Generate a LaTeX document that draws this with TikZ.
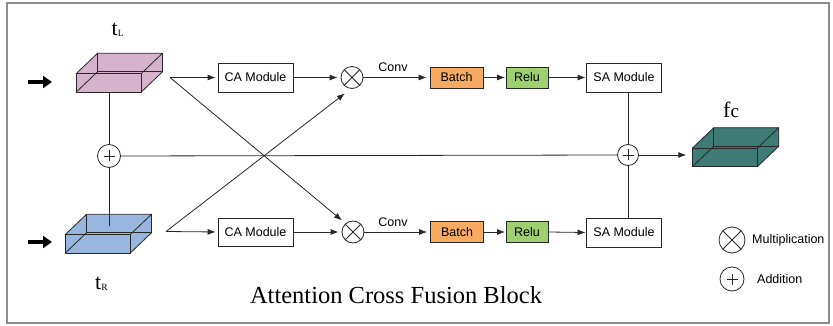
\documentclass[tikz,border=0pt]{standalone}
\usepackage{fontspec}
\setmainfont{Liberation Serif}
\setsansfont{Liberation Sans}
\usetikzlibrary{arrows.meta}
\definecolor{pinkc}{RGB}{214,178,204}
\definecolor{bluec}{RGB}{153,182,224}
\definecolor{tealc}{RGB}{62,122,118}
\definecolor{orangec}{RGB}{247,170,98}
\definecolor{greenc}{RGB}{158,208,112}
\definecolor{edgec}{RGB}{40,40,40}
\definecolor{framec}{RGB}{140,140,140}
\tikzset{
  boxedge/.style={draw=edgec,line width=0.8pt,line join=round},
  cuboid/.pic={
    \fill[#1] (0,0) -- (0,-18.5) -- (21.5,-39) -- (86.5,-39) -- (86.5,-20.5) -- (65,0) -- cycle;
    \draw[boxedge] (0,0) rectangle (65,-18.5);
    \draw[boxedge] (0,-18.5) -- (21.5,-39) -- (86.5,-39) -- (65,-18.5);
    \draw[boxedge] (86.5,-39) -- (86.5,-20.5) -- (65,0);
    \draw[boxedge] (21.5,-39) -- (21.5,-20.5) -- (86.5,-20.5);
    \draw[boxedge] (0,0) -- (21.5,-20.5);
  },
  sans/.style={font=\sffamily\fontsize{12.5}{14}\selectfont},
  module/.style={sans,draw=edgec,line width=0.8pt,fill=white,inner sep=0pt,minimum width=75pt,minimum height=29pt},
  smallbox/.style={sans,draw=edgec,line width=0.8pt,inner sep=0pt,minimum height=21pt},
  mult/.style={circle,draw=edgec,line width=0.8pt,minimum size=22pt,inner sep=0pt,
    path picture={\draw[edgec,line width=0.8pt] (path picture bounding box.north west) -- (path picture bounding box.south east) (path picture bounding box.north east) -- (path picture bounding box.south west);}},
  addc/.style={circle,draw=edgec,line width=0.8pt,minimum size=22pt,inner sep=0pt,fill=white,
    path picture={\draw[edgec,line width=0.8pt] ([xshift=-5.5pt]path picture bounding box.center) -- ([xshift=5.5pt]path picture bounding box.center) ([yshift=-5.5pt]path picture bounding box.center) -- ([yshift=5.5pt]path picture bounding box.center);}},
  conn/.style={draw=edgec,line width=0.8pt},
  arr/.style={conn,-{Latex[length=8pt,width=6pt]},shorten >=2pt},
  bigarr/.style={draw=black,line width=4.5pt,-{Triangle[length=9pt,width=12pt]}},
  serif/.style={font=\rmfamily\fontsize{22}{24}\selectfont,inner sep=0pt},
}
\begin{document}
\begin{tikzpicture}[x=1pt,y=-1pt]
\useasboundingbox (0,0) rectangle (833,326);
\draw[framec,line width=1.6pt] (7,3) rectangle (829,323);

% cuboids
\pic at (76,92.3) {cuboid=pinkc};
\pic at (65,253.3) {cuboid=bluec};
\pic at (692.3,166.7) {cuboid=tealc};

% labels
\node[serif,anchor=base west] (tL) at (111.5,36) {t\raisebox{-1pt}{\fontsize{9.5}{9.5}\selectfont L}};
\node[serif,anchor=base west] (tR) at (95,289) {t\raisebox{-1pt}{\fontsize{9.5}{9.5}\selectfont R}};
\node[serif,anchor=base west] (fc) at (723,118) {f{\fontsize{19}{20}\selectfont c}};

% input arrows
\coordinate (inT0) at (28,82);
\coordinate (inT1) at (52,82);
\coordinate (inB0) at (28,242);
\coordinate (inB1) at (52,242);
\draw[bigarr] (inT0) -- (inT1);
\draw[bigarr] (inB0) -- (inB1);

% key points
\coordinate (tLbot) at (109,92.3);
\coordinate (tRtop) at (109,226);
\coordinate (startT) at (170,77.5);
\coordinate (startB) at (166,231.5);
\coordinate (fcIn) at (692.3,155);

% nodes
\node[addc,minimum size=23pt] (plusL) at (109,156) {};
\node[module] (caU) at (255.5,77.5) {CA Module};
\node[module,minimum height=28pt] (caD) at (255.5,232) {CA Module};
\node[mult] (mulU) at (352,77.5) {};
\node[mult] (mulD) at (353,232) {};
\node[smallbox,fill=orangec,minimum width=53pt] (bU) at (456.5,77.5) {Batch};
\node[smallbox,fill=orangec,minimum width=53pt] (bD) at (457,232) {Batch};
\node[smallbox,fill=greenc,minimum width=42pt] (rU) at (527,77.5) {Relu};
\node[smallbox,fill=greenc,minimum width=42pt] (rD) at (527,232) {Relu};
\node[module] (saU) at (624,77.5) {SA Module};
\node[module] (saD) at (624,232.5) {SA Module};
\node[addc,minimum size=21pt] (plusR) at (628,155) {};
\node[sans] (convU) at (393,67) {Conv};
\node[sans] (convD) at (393,222) {Conv};

% connectors
\draw[conn] (tLbot) -- (plusL.north);
\draw[conn] (plusL.south) -- (tRtop);
\draw[conn] (plusL.east) -- (plusR.west);
\draw[conn] (plusR.north) -- (plusR.north |- saU.south);
\draw[conn] (plusR.south) -- (plusR.south |- saD.north);
\draw[arr,shorten >=6pt] (plusR.east) -- (fcIn);

\draw[arr] (startT) -- (caU.west);
\draw[arr,shorten >=4.6pt] (startT) -- (mulD.131);
\draw[arr] (startB) -- (caD.west);
\draw[arr,shorten >=7.5pt] (startB) -- (mulU.264);

\draw[arr,shorten >=3pt] (caU.east) -- (mulU.west);
\draw[arr,shorten >=3pt] (caD.east) -- (mulD.west);
\draw[arr,shorten >=3pt] (mulU.east) -- (bU.west);
\draw[arr,shorten >=3pt] (mulD.east) -- (bD.west);
\draw[arr,shorten >=0.5pt] (bU.east) -- (rU.west);
\draw[arr,shorten >=0.5pt] (bD.east) -- (rD.west);
\draw[arr,shorten >=0.5pt] (rU.east) -- (saU.west);
\draw[arr,shorten >=0.5pt] (rD.east) -- (saD.west);

% legend
\node[mult,minimum size=26pt] (legM) at (732,240) {};
\node[sans,anchor=west,inner sep=0pt] (legMt) at (752,240) {Multiplication};
\node[addc,minimum size=24pt] (legA) at (732,279) {};
\node[sans,anchor=west,inner sep=0pt] (legAt) at (757,279) {Addition};

% title
\node[font=\rmfamily\fontsize{24.5}{26}\selectfont,anchor=base,inner sep=0pt] (title) at (396,303) {Attention Cross Fusion Block};
\end{tikzpicture}
\end{document}
